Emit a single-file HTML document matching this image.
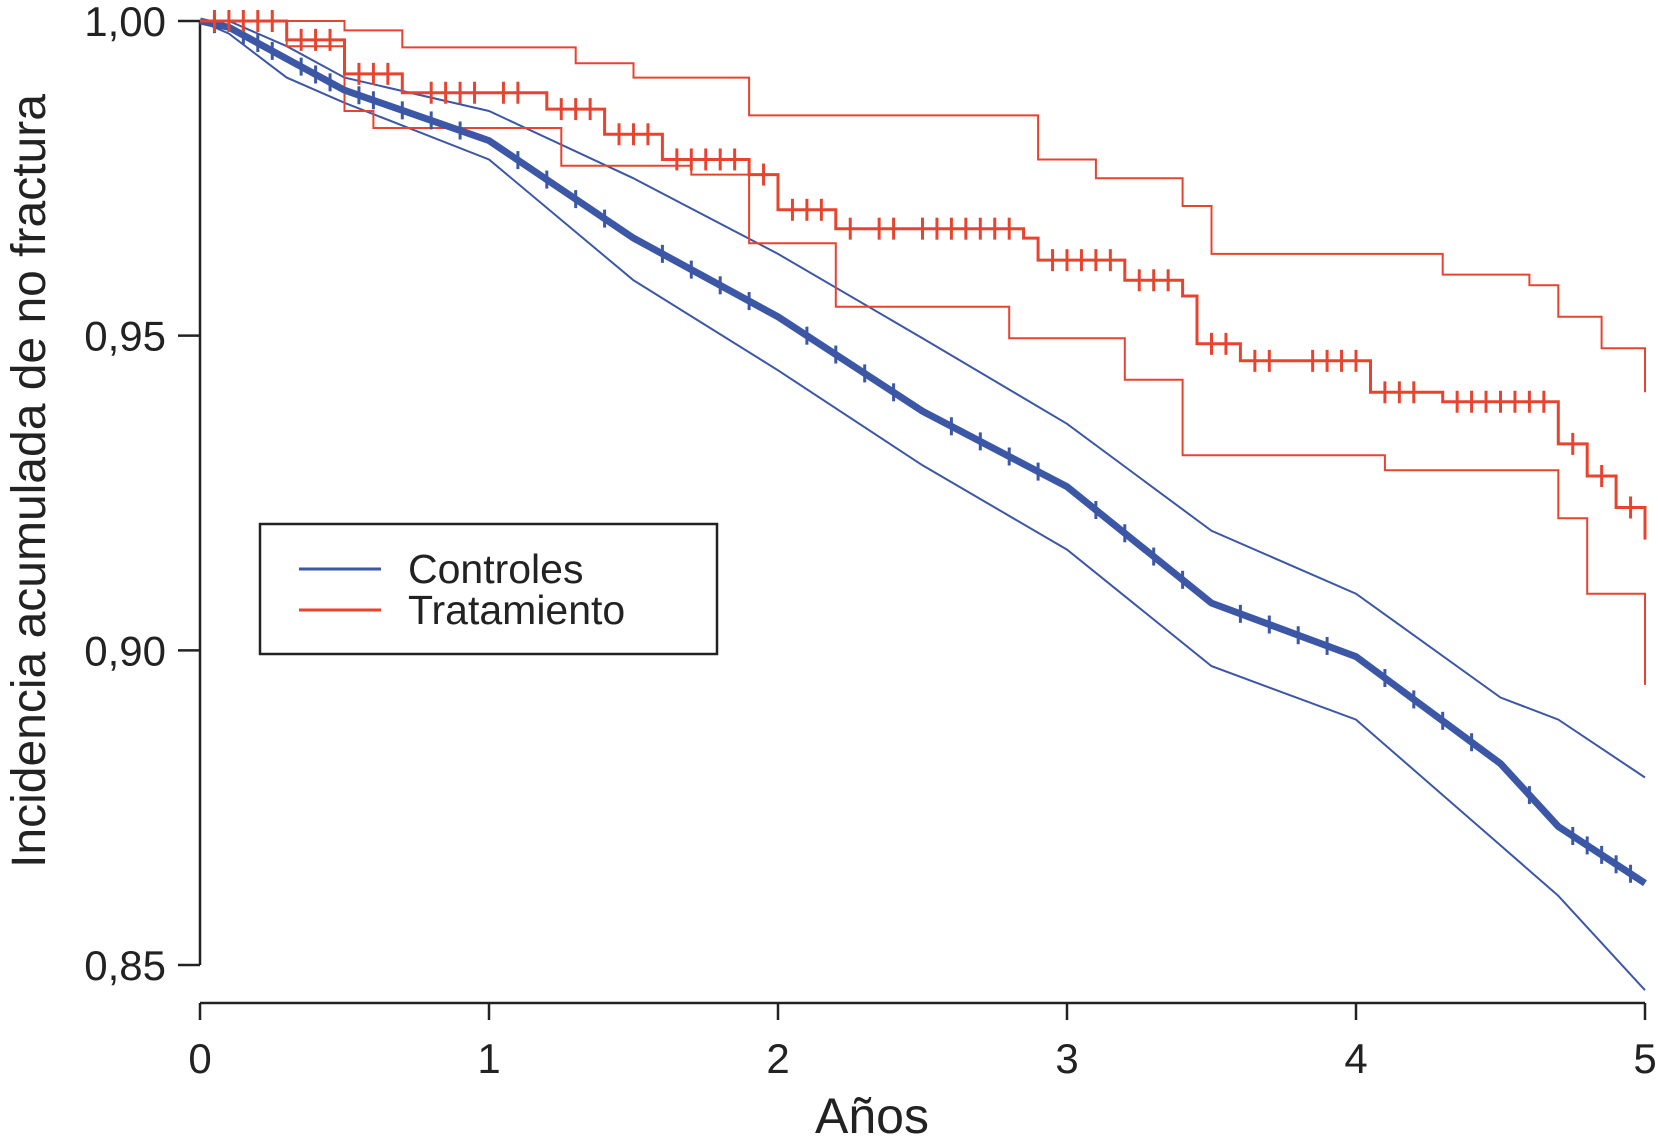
<!DOCTYPE html>
<html><head><meta charset="utf-8"><style>
body{margin:0;background:#fff}
svg{display:block;font-family:"Liberation Sans",sans-serif}
</style></head><body>
<svg id="c" width="1658" height="1146"></svg>
<script>
const yTicks=[1.00,0.95,0.90,0.85];
const yTickLabels=["1,00","0,95","0,90","0,85"];
const xTicks=[0,1,2,3,4,5];
const ctrlT=[0,0.1,0.3,0.5,1,1.5,2,2.5,3,3.5,4,4.5,4.7,5];
const ctrlMain=[1,0.999,0.994,0.989,0.981,0.9655,0.953,0.938,0.926,0.9075,0.899,0.882,0.872,0.863];
const ctrlUp=[1,1,0.996,0.991,0.9857,0.975,0.963,0.9496,0.936,0.919,0.909,0.8925,0.889,0.8798];
const ctrlLo=[1,0.998,0.991,0.987,0.978,0.9588,0.9445,0.9294,0.916,0.8975,0.889,0.869,0.861,0.846];
const trtT=[0,0.3,0.5,0.7,1.2,1.4,1.6,1.9,2.0,2.2,2.85,2.9,3.2,3.4,3.45,3.6,4.05,4.3,4.7,4.8,4.9,5.0];
const trtMain=[1,0.997,0.9916,0.9886,0.986,0.982,0.978,0.9756,0.97,0.967,0.9655,0.962,0.9588,0.9563,0.9487,0.946,0.941,0.9395,0.9328,0.9277,0.9227,0.9176];
const trtUpT=[0,0.5,0.7,1.3,1.5,1.9,2.9,3.1,3.4,3.5,4.3,4.6,4.7,4.85,5.0];
const trtUp=[1,0.9985,0.9958,0.9933,0.991,0.985,0.978,0.975,0.9706,0.963,0.9597,0.958,0.953,0.948,0.941];
const trtLoT=[0,0.3,0.5,0.6,1.25,1.7,1.9,2.2,2.8,3.2,3.4,4.1,4.7,4.8,5.0];
const trtLo=[1,0.996,0.9857,0.983,0.977,0.9756,0.9647,0.9546,0.9496,0.943,0.931,0.9286,0.921,0.909,0.8945];
const trtCens=[0.05,0.1,0.15,0.2,0.25,0.35,0.4,0.45,0.55,0.6,0.65,0.8,0.85,0.9,0.95,1.05,1.1,1.25,1.3,1.35,1.45,1.5,1.55,1.65,1.7,1.75,1.8,1.85,1.95,2.05,2.1,2.15,2.25,2.35,2.4,2.5,2.55,2.6,2.65,2.7,2.75,2.8,2.95,3.0,3.05,3.1,3.15,3.25,3.3,3.35,3.5,3.55,3.65,3.7,3.85,3.9,3.95,4.0,4.1,4.15,4.2,4.35,4.4,4.45,4.5,4.55,4.6,4.65,4.75,4.85,4.95];
const ctrlCens=[0.05,0.15,0.2,0.25,0.35,0.4,0.45,0.55,0.6,0.7,0.8,0.9,1.1,1.2,1.3,1.4,1.6,1.7,1.8,1.9,2.1,2.2,2.3,2.4,2.6,2.7,2.8,2.9,3.1,3.2,3.3,3.4,3.6,3.7,3.8,3.9,4.1,4.2,4.3,4.4,4.6,4.75,4.8,4.85,4.9,4.95];
const NS="http://www.w3.org/2000/svg",svg=document.getElementById('c');
const X0=200,X1=1645,Ytop=21,Ybot=965;
const sx=t=>X0+(X1-X0)*t/5, sy=v=>Ytop+(Ybot-Ytop)*(1-v)/0.15;
function mk(tag,at,parent){const e=document.createElementNS(NS,tag);for(const k in at)e.setAttribute(k,at[k]);(parent||svg).appendChild(e);return e;}
function interp(T,V,t){for(let i=T.length-1;i>=0;i--)if(t>=T[i]){if(i===T.length-1)return V[i];const f=(t-T[i])/(T[i+1]-T[i]);return V[i]+f*(V[i+1]-V[i]);}return V[0];}
function stepVal(T,V,t){let v=V[0];for(let i=0;i<T.length;i++)if(t>=T[i])v=V[i];return v;}
function linePath(T,V){return T.map((t,i)=>(i?'L':'M')+sx(t).toFixed(1)+','+sy(V[i]).toFixed(1)).join('');}
function stepPath(T,V){let d='M'+sx(T[0])+','+sy(V[0]);for(let i=1;i<T.length;i++){d+='L'+sx(T[i]).toFixed(1)+','+sy(V[i-1]).toFixed(1)+'L'+sx(T[i]).toFixed(1)+','+sy(V[i]).toFixed(1);}return d;}
const blue="#3b57a6",red="#e8432f";
const ya=mk('path',{d:`M${X0},${Ytop}V${Ybot}`,stroke:'#222','stroke-width':2.5,fill:'none'});

yTicks.forEach((v,i)=>{
 const tk=mk('line',{x1:X0-22,x2:X0,y1:sy(v),y2:sy(v),stroke:'#222','stroke-width':2.5});
 
 const tx=mk('text',{x:166,y:sy(v)+15,'text-anchor':'end','font-size':42,fill:'#222'});tx.textContent=yTickLabels[i];
 
});
const xa=mk('path',{d:`M${X0},1003H${X1}`,stroke:'#222','stroke-width':2.5,fill:'none'});

xTicks.forEach(t=>{
 const tk=mk('line',{x1:sx(t),x2:sx(t),y1:1003,y2:1020,stroke:'#222','stroke-width':2.5});
 
 const tx=mk('text',{x:sx(t),y:1073,'text-anchor':'middle','font-size':42,fill:'#222'});tx.textContent=t;
 
});
const yt=mk('text',{x:0,y:0,transform:'translate(45,481) rotate(-90)','text-anchor':'middle','font-size':48,fill:'#222'});yt.textContent='Incidencia acumulada de no fractura';

const xt=mk('text',{x:872,y:1133,'text-anchor':'middle','font-size':50,fill:'#222'});xt.textContent='Años';

function curve(d,col,w,name){const p=mk('path',{d:d,stroke:col,'stroke-width':w,fill:'none','stroke-linejoin':'miter'});}
curve(linePath(ctrlT,ctrlUp),blue,2,'controles-upper-ci');
curve(linePath(ctrlT,ctrlLo),blue,2,'controles-lower-ci');
curve(stepPath(trtUpT,trtUp),red,2,'tratamiento-upper-ci');
curve(stepPath(trtLoT,trtLo),red,2,'tratamiento-lower-ci');
curve(linePath(ctrlT,ctrlMain),blue,7,'controles-curve');
ctrlCens.forEach(t=>{const y=sy(interp(ctrlT,ctrlMain,t));const m=mk('line',{x1:sx(t),x2:sx(t),y1:y-9,y2:y+9,stroke:blue,'stroke-width':3});});
curve(stepPath(trtT,trtMain),red,3,'tratamiento-curve');
trtCens.forEach(t=>{const y=sy(stepVal(trtT,trtMain,t));const m=mk('line',{x1:sx(t),x2:sx(t),y1:y-11,y2:y+11,stroke:red,'stroke-width':3});});
const lg=mk('g',{});
mk('rect',{x:260,y:524,width:457,height:130,fill:'#fff',stroke:'#222','stroke-width':2.5},lg);
[[blue,'Controles',569],[red,'Tratamiento',610]].forEach(([c,l,y])=>{
 const l1=mk('line',{x1:299,x2:381,y1:y,y2:y,stroke:c,'stroke-width':3},lg);
 const t=mk('text',{x:408,y:y+14,'font-size':41,fill:'#222'},lg);t.textContent=l;
});
</script>
</body></html>
